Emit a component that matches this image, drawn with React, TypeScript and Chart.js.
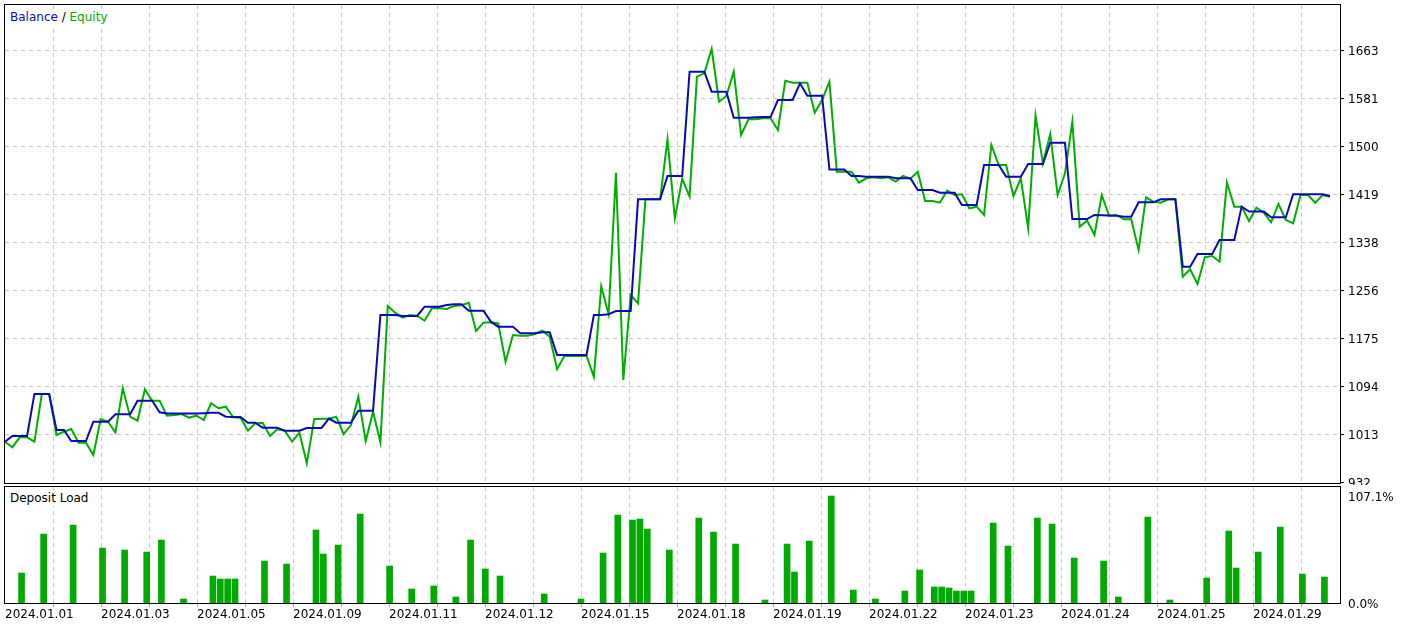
import React, { useEffect, useRef } from 'react';
import { Chart, registerables } from 'chart.js';

Chart.register(...registerables);

// ---------- DATA ----------
// Balance per deal point (index 0..180)
const balance = [
  1000, 1010, 1010, 1010, 1081, 1081, 1081, 1020, 1020, 1001.4,
  1001.4, 1001.4, 1034, 1034, 1034, 1046.5, 1046.5, 1046.5, 1069.6, 1069.6,
  1069.6, 1050, 1048, 1048, 1048, 1048, 1048, 1048.5, 1049, 1049,
  1042.5, 1042, 1042, 1032.3, 1032.3, 1024, 1024, 1024, 1018.8, 1018.8,
  1018.8, 1023.4, 1023.4, 1023.4, 1039.2, 1032.3, 1032.3, 1032.3, 1052.7, 1052.7,
  1052.7, 1214.6, 1214.6, 1214.6, 1212.9, 1212.9, 1212.9, 1228.7, 1228.7, 1228.7,
  1231.5, 1232.6, 1232.6, 1221.9, 1221.9, 1221.9, 1203.3, 1194.9, 1194.9, 1194.9,
  1183.6, 1183.6, 1183.6, 1185.3, 1185.3, 1146.9, 1146.9, 1146.9, 1146.9, 1146.9,
  1214.6, 1214.6, 1216, 1221.3, 1221.3, 1221.3, 1410.3, 1410.3, 1410.3, 1410.3,
  1449.8, 1449.8, 1449.8, 1626.3, 1626.3, 1626.3, 1592.4, 1592.4, 1592.4, 1548.5,
  1548.5, 1548.5, 1549, 1549.5, 1549.5, 1578.4, 1578.4, 1578.4, 1606.6, 1585.6,
  1585.6, 1585.6, 1460.8, 1460.8, 1460.8, 1449.8, 1449.8, 1448.7, 1448.7, 1448.7,
  1448.7, 1446, 1446, 1446, 1426.1, 1426.1, 1426.1, 1421.6, 1421.6, 1421.6,
  1400.7, 1400.7, 1400.7, 1468.4, 1468.4, 1468.4, 1448.7, 1448.7, 1448.7, 1470.1,
  1470.1, 1470.1, 1506.1, 1506.1, 1506.1, 1377, 1377, 1377, 1383.8, 1383.5,
  1383, 1382.5, 1380.9, 1380.9, 1405.2, 1405.2, 1405.2, 1410.3, 1410.3, 1410.3,
  1296.3, 1296.3, 1317.8, 1317.8, 1317.8, 1341.5, 1341.5, 1341.5, 1397.9, 1389.5,
  1389.5, 1389.5, 1379.9, 1379.9, 1379.9, 1418.8, 1418.8, 1418.8, 1418.8, 1418.8,
  1415.9,
];

// Equity per deal point (index 0..180)
const equity = [
  1000.2, 990.7, 1007.6, 1007.6, 1000.2, 1080.9, 1080.9, 1011.5, 1017.1, 1021.7,
  998.5, 998.5, 977.7, 1038.6, 1034, 1016.1, 1090.5, 1042.5, 1035.7, 1088.8,
  1069.6, 1069.6, 1044.2, 1045.4, 1047, 1040.8, 1044.2, 1036.9, 1065.2, 1056.7,
  1059.4, 1041.4, 1040.8, 1018.8, 1031.2, 1032.3, 1009.8, 1021.1, 1018.8, 1000.2,
  1015.4, 963.6, 1038.1, 1039.2, 1039.2, 1042.5, 1013.2, 1028.4, 1076.3, 1001.4,
  1051, 999.2, 1229.8, 1218.5, 1210, 1214.6, 1212.9, 1204.9, 1225.9, 1225.9,
  1224.7, 1229.8, 1231, 1235.4, 1187.5, 1201.6, 1202.2, 1200.5, 1135.6, 1180.7,
  1179.6, 1179.6, 1182.4, 1188, 1177.9, 1123.2, 1145.2, 1145.2, 1145.2, 1145.2,
  1110.2, 1263, 1216, 1455.4, 1104.6, 1248.4, 1234.3, 1410.3, 1410.3, 1410.3,
  1511.8, 1378.2, 1445, 1414.8, 1617.8, 1623.5, 1664.7, 1575.5, 1585.1, 1626.3,
  1519.2, 1545.7, 1545.7, 1547.4, 1547.4, 1527.6, 1611, 1607.7, 1607.7, 1607.7,
  1557, 1578.4, 1609.3, 1457.1, 1457.1, 1457.1, 1438.5, 1445.9, 1447.5, 1445.9,
  1447.5, 1440.2, 1449.8, 1445.3, 1457.1, 1407.5, 1407.5, 1404.6, 1424.9, 1417.6,
  1418.8, 1395.1, 1397.9, 1383.8, 1502.2, 1468.4, 1468.4, 1415.9, 1445.9, 1361.3,
  1551.9, 1471.2, 1520.8, 1417.6, 1454.3, 1541.7, 1364, 1374.2, 1349.9, 1417.6,
  1382.1, 1383.8, 1376.5, 1376.5, 1324.6, 1413.7, 1406.3, 1404.6, 1410.3, 1410.3,
  1279.4, 1291.9, 1267, 1312.2, 1314.4, 1304.8, 1438.5, 1397.9, 1397.9, 1373.6,
  1396.2, 1387.8, 1371.4, 1402.4, 1375.3, 1369.7, 1417.6, 1417.6, 1404.6, 1417.6,
  1414.8,
];

// Deposit load: deal point index and load in percent
const loadPoint = [
  2, 5, 9, 13, 16, 19, 21, 24, 28, 29,
  30, 31, 35, 38, 42, 43, 45, 48, 52, 55,
  58, 61, 63, 65, 67, 73, 78, 81, 83, 85,
  86, 87, 90, 94, 96, 99, 103, 106, 107, 109,
  112, 115, 118, 122, 124, 126, 127, 128, 129, 130,
  131, 134, 136, 140, 142, 145, 149, 151, 155, 158,
  163, 166, 167, 170, 173, 176, 179,
];
const loadPct = [
  30, 69, 78, 55, 53, 51, 63, 4, 27, 24,
  24, 24, 42, 39, 73, 49, 58, 89, 37, 14,
  17, 6, 63, 34, 27, 9, 4, 50, 88, 83,
  84, 74, 53, 85, 71, 59, 3, 59, 31, 62,
  107.1, 13, 4, 12, 33, 16, 16, 15, 12, 12,
  12, 80, 57, 85, 79, 45, 42, 6, 86, 3,
  25, 72, 35, 51, 76, 29, 26,
];

// Tick labels
const yTickLabels = ['932', '1013', '1094', '1175', '1256', '1338', '1419', '1500', '1581', '1663'];
const Y_MIN = 932;
const Y_STEP = 81.22;
const loadTickValues = [0, 107.1];
const loadTickLabels = ['0.0%', '107.1%'];
const dateLabels = [
  '2024.01.01', '2024.01.03', '2024.01.05', '2024.01.09', '2024.01.11',
  '2024.01.12', '2024.01.15', '2024.01.18', '2024.01.19', '2024.01.22',
  '2024.01.23', '2024.01.24', '2024.01.25', '2024.01.29',
];

// ---------- LAYOUT / STYLE ----------
const W = 1405;
const TOP_H = 485;
const BOT_H = 141;
const PLOT_LEFT = 5;
const PLOT_RIGHT = 1340;
const AXIS_W = W - PLOT_RIGHT;
const PX_PER_POINT = 7.361;
const GRID_PX = 48;
const GRID_COUNT = 28;
const X_MAX = (PLOT_RIGHT - PLOT_LEFT) / PX_PER_POINT;
const GRID_STEP = GRID_PX / PX_PER_POINT;
const TOP_PLOT_TOP = 5;
const TOP_PLOT_BOTTOM = 482;
const Y_MAX = Y_MIN + ((TOP_PLOT_BOTTOM - TOP_PLOT_TOP) * Y_STEP) / GRID_PX;
const LOAD_MAX = 116.1;
const BAR_SHIFT = 0.25;

const FONT = '"DejaVu Sans", Verdana, sans-serif';
const BAL_COLOR = '#0a0ab4';
const EQ_COLOR = '#00ad00';
const BAR_COLOR = '#00aa00';
const GRID_COLOR = '#c8c8c8';
const DASH = [4, 4];

const makeFrame = (bottomExtra: number) => ({
  id: 'frame',
  afterDraw(chart: any) {
    const { ctx, chartArea: a } = chart;
    ctx.save();
    ctx.strokeStyle = '#000';
    ctx.lineWidth = 1;
    const x0 = a.left - 0.5;
    const y0 = a.top - 0.5;
    ctx.strokeRect(x0, y0, a.right + 0.5 - x0, a.bottom + bottomExtra - y0);
    ctx.restore();
  },
});

const fixSize = (w: number | null, h: number | null) => (s: any) => {
  if (w !== null) s.width = w;
  if (h !== null) s.height = h;
  s.paddingTop = 0;
  s.paddingBottom = 0;
  s.paddingLeft = 0;
  s.paddingRight = 0;
};

export default function App() {
  const topRef = useRef<HTMLCanvasElement>(null);
  const botRef = useRef<HTMLCanvasElement>(null);

  useEffect(() => {
    const font = { family: FONT, size: 12 };

    const top = new Chart(topRef.current as HTMLCanvasElement, {
      type: 'line',
      data: {
        datasets: [
          {
            label: 'Balance',
            data: balance.map((y, x) => ({ x, y })),
            borderColor: BAL_COLOR,
            borderWidth: 2,
            pointRadius: 0,
            tension: 0,
            fill: false,
          },
          {
            label: 'Equity',
            data: equity.map((y, x) => ({ x, y })),
            borderColor: EQ_COLOR,
            borderWidth: 2,
            pointRadius: 0,
            tension: 0,
            fill: false,
          },
        ],
      },
      options: {
        animation: false,
        responsive: false,
        devicePixelRatio: 1,
        events: [],
        layout: { autoPadding: false, padding: { left: PLOT_LEFT, top: TOP_PLOT_TOP, right: 0, bottom: 0 } },
        plugins: { legend: { display: false }, tooltip: { enabled: false } },
        scales: {
          x: {
            type: 'linear',
            min: 0,
            max: X_MAX,
            offset: false,
            afterBuildTicks: (s: any) => {
              const t = [];
              for (let k = 1; k < GRID_COUNT; k++) t.push({ value: k * GRID_STEP });
              s.ticks = t;
            },
            afterFit: fixSize(null, TOP_H - TOP_PLOT_BOTTOM),
            ticks: { display: false, autoSkip: false },
            grid: { color: GRID_COLOR, lineWidth: 1, drawTicks: false, offset: false },
            border: { display: false, dash: DASH },
          },
          y: {
            type: 'linear',
            position: 'right',
            min: Y_MIN,
            max: Y_MAX,
            afterBuildTicks: (s: any) => {
              s.ticks = yTickLabels.map((_, i) => ({ value: Y_MIN + i * Y_STEP }));
            },
            afterFit: fixSize(AXIS_W, null),
            ticks: {
              autoSkip: false,
              padding: 4,
              labelOffset: 2,
              color: '#000',
              font,
              callback: (_v: any, i: number) => yTickLabels[i],
            },
            grid: {
              color: (c: any) => (c.index === 0 ? 'rgba(0,0,0,0)' : GRID_COLOR),
              tickColor: '#000',
              tickLength: 4,
              drawTicks: true,
            },
            border: { display: false, dash: DASH },
          },
        },
      } as any,
      plugins: [makeFrame(1.5)],
    });

    const bot = new Chart(botRef.current as HTMLCanvasElement, {
      type: 'bar',
      data: {
        datasets: [
          {
            label: 'Deposit Load',
            data: loadPoint.map((p, k) => ({ x: p, y: loadPct[k] })),
            backgroundColor: BAR_COLOR,
            borderWidth: 0,
            barThickness: 6,
            grouped: false,
          },
        ],
      },
      options: {
        animation: false,
        responsive: false,
        devicePixelRatio: 1,
        events: [],
        layout: { autoPadding: false, padding: { left: PLOT_LEFT, top: 2, right: 0, bottom: 0 } },
        plugins: { legend: { display: false }, tooltip: { enabled: false } },
        scales: {
          x: {
            type: 'linear',
            min: -BAR_SHIFT,
            max: X_MAX - BAR_SHIFT,
            offset: false,
            afterBuildTicks: (s: any) => {
              const t = [];
              for (let k = 0; k < GRID_COUNT; k++) t.push({ value: -BAR_SHIFT + k * GRID_STEP });
              s.ticks = t;
            },
            afterFit: fixSize(null, 23),
            ticks: {
              autoSkip: false,
              maxRotation: 0,
              minRotation: 0,
              align: 'start',
              padding: 1,
              color: '#000',
              font,
              callback: (_v: any, i: number) => (i % 2 === 0 ? dateLabels[i / 2] || '' : ''),
            },
            grid: {
              color: (c: any) => (c.index === 0 ? 'rgba(0,0,0,0)' : GRID_COLOR),
              tickColor: (c: any) => (c.index === 0 ? 'rgba(0,0,0,0)' : '#a8a8a8'),
              tickLength: 4,
              drawTicks: true,
              offset: false,
            },
            border: { display: false, dash: DASH },
          },
          y: {
            type: 'linear',
            position: 'right',
            min: 0,
            max: LOAD_MAX,
            afterBuildTicks: (s: any) => {
              s.ticks = loadTickValues.map((v) => ({ value: v }));
            },
            afterFit: fixSize(AXIS_W, null),
            ticks: {
              autoSkip: false,
              padding: 8,
              labelOffset: 2,
              color: '#000',
              font,
              callback: (_v: any, i: number) => loadTickLabels[i],
            },
            grid: { display: false, drawTicks: false, drawOnChartArea: false },
            border: { display: false },
          },
        },
      } as any,
      plugins: [makeFrame(0.5)],
    });

    return () => {
      top.destroy();
      bot.destroy();
    };
  }, []);

  const labelBox: React.CSSProperties = {
    position: 'absolute',
    left: 8,
    height: 16,
    lineHeight: '16px',
    padding: '0 2px',
    background: '#fff',
    fontFamily: FONT,
    fontSize: 12,
    whiteSpace: 'nowrap',
  };

  return (
    <div
      style={{
        position: 'fixed',
        left: 0,
        top: 0,
        width: W,
        height: TOP_H + BOT_H,
        background: '#fff',
        overflow: 'hidden',
      }}
    >
      <canvas
        ref={topRef}
        width={W}
        height={TOP_H}
        style={{ position: 'absolute', left: 0, top: 0, width: W, height: TOP_H }}
      />
      <canvas
        ref={botRef}
        width={W}
        height={BOT_H}
        style={{ position: 'absolute', left: 0, top: TOP_H, width: W, height: BOT_H }}
      />
      <div style={{ ...labelBox, top: 9 }}>
        <span style={{ color: BAL_COLOR }}>Balance</span>
        <span style={{ color: '#000' }}> / </span>
        <span style={{ color: EQ_COLOR }}>Equity</span>
      </div>
      <div style={{ ...labelBox, top: 490, color: '#000' }}>Deposit Load</div>
    </div>
  );
}
